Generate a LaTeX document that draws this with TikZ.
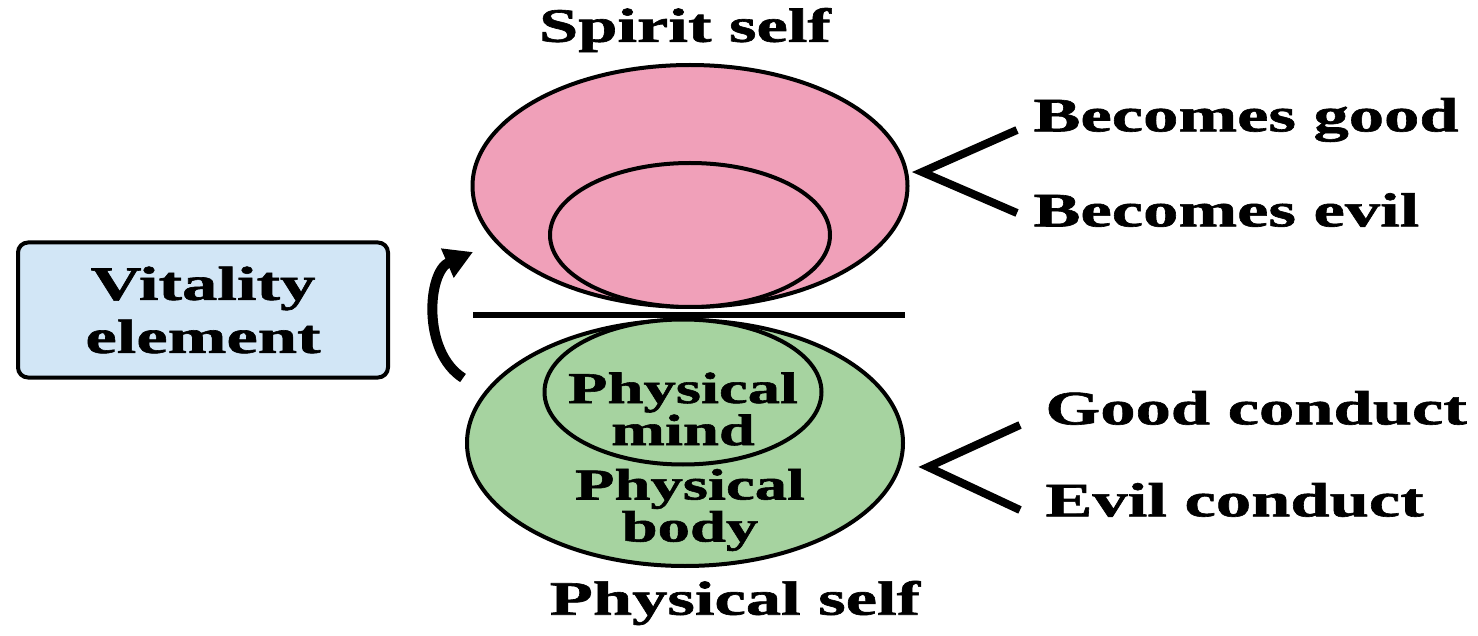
\documentclass[tikz,border=0pt]{standalone}
\usepackage{fontspec}
\setmainfont{Liberation Serif}[FakeStretch=1.47, BoldFeatures={FakeBold=1.3}]
\usetikzlibrary{shapes.geometric,arrows.meta,positioning}

\definecolor{spiritpink}{RGB}{240,160,185}
\definecolor{bodygreen}{RGB}{166,211,160}
\definecolor{vitalblue}{RGB}{210,230,246}

\tikzset{
  lbl/.style={font=\fontsize{24}{26}\selectfont\bfseries, inner sep=0pt},
  inlbl/.style={font=\fontsize{22}{20}\selectfont\bfseries, align=center, inner sep=0pt},
  oval/.style={ellipse, draw=black, line width=2pt, inner sep=0pt},
  fork/.style={line width=4pt},
}

\begin{document}
\begin{tikzpicture}[x=0.5pt, y=-0.5pt]
  \useasboundingbox (0,0) rectangle (1478,636);

  % spirit self
  \node[oval, fill=spiritpink, minimum width=217.5pt, minimum height=121pt] at (690,186) (spirit) {};
  \node[oval, fill=spiritpink, minimum width=140pt, minimum height=72pt] at (690,235) (spiritin) {};
  \node[lbl] at (685,30) (spiritlbl) {Spirit self};

  % physical self
  \node[oval, fill=bodygreen, minimum width=218pt, minimum height=123pt] at (685,443) (body) {};
  \node[oval, fill=bodygreen, minimum width=138.5pt, minimum height=72.5pt] at (683,392) (mind) {};
  \node[inlbl] at (683,409) (mindlbl) {Physical\\mind};
  \node[inlbl] at (690,510) (bodylbl) {Physical\\body};
  \node[lbl] at (735,603) (physlbl) {Physical self};

  % dividing line
  \coordinate (divl) at (473,315);
  \coordinate (divr) at (905,315);
  \draw[line width=2.8pt] (divl) -- (divr);

  % vitality element
  \node[draw=black, line width=2pt, fill=vitalblue, rounded corners=5pt,
        minimum width=185pt, minimum height=67.5pt, align=center,
        font=\fontsize{24}{26.5}\selectfont\bfseries] at (203,310) (vital) {Vitality\\element};
  \coordinate (arrowtail) at (463,378);
  \coordinate (arrowhead) at (473,252);
  \draw[line width=5pt, -{Triangle[length=14pt,width=15pt]}] (arrowtail) to[bend left=62] (arrowhead);

  % outcomes
  \node[lbl, anchor=west] at (1033,120) (good) {Becomes good};
  \node[lbl, anchor=west] at (1033,210) (evil) {Becomes evil};
  \node[lbl, anchor=west] at (1045,408) (goodc) {Good conduct};
  \node[lbl, anchor=west] at (1045,500) (evilc) {Evil conduct};

  \coordinate (forkA) at (922,172);
  \coordinate (forkAup) at (1017,130);
  \coordinate (forkAdn) at (1017,213);
  \coordinate (forkB) at (928,467);
  \coordinate (forkBup) at (1020,425);
  \coordinate (forkBdn) at (1020,510);
  \draw[fork] (forkAup) -- (forkA) -- (forkAdn);
  \draw[fork] (forkBup) -- (forkB) -- (forkBdn);
\end{tikzpicture}
\end{document}
